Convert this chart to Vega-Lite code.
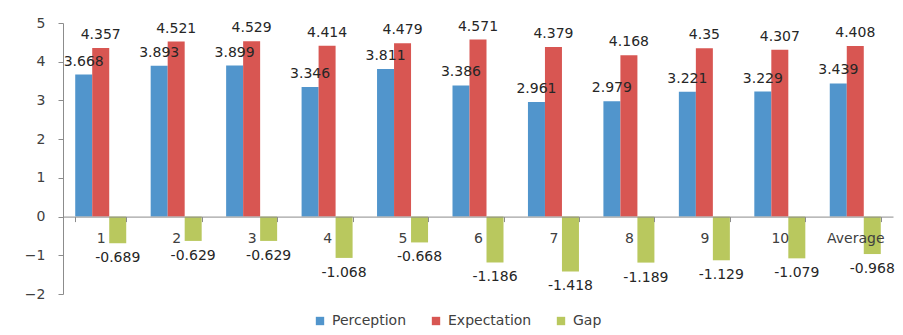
{
  "$schema": "https://vega.github.io/schema/vega-lite/v6.json",
  "width": 830,
  "height": 271,
  "autosize": {"type": "none"},
  "padding": {"left": 63, "top": 23, "right": 10, "bottom": 41},
  "background": "white",
  "config": {
    "view": {"stroke": null},
    "font": "DejaVu Sans",
    "axis": {"labelFont": "DejaVu Sans", "labelFontSize": 14, "labelColor": "#404040", "domainColor": "#8c8c8c", "tickColor": "#8c8c8c", "grid": false}
  },
  "data": {
    "values": [
      {"cat": "1", "series": "Perception", "value": 3.668},
      {"cat": "1", "series": "Expectation", "value": 4.357},
      {"cat": "1", "series": "Gap", "value": -0.689},
      {"cat": "2", "series": "Perception", "value": 3.893},
      {"cat": "2", "series": "Expectation", "value": 4.521},
      {"cat": "2", "series": "Gap", "value": -0.629},
      {"cat": "3", "series": "Perception", "value": 3.899},
      {"cat": "3", "series": "Expectation", "value": 4.529},
      {"cat": "3", "series": "Gap", "value": -0.629},
      {"cat": "4", "series": "Perception", "value": 3.346},
      {"cat": "4", "series": "Expectation", "value": 4.414},
      {"cat": "4", "series": "Gap", "value": -1.068},
      {"cat": "5", "series": "Perception", "value": 3.811},
      {"cat": "5", "series": "Expectation", "value": 4.479},
      {"cat": "5", "series": "Gap", "value": -0.668},
      {"cat": "6", "series": "Perception", "value": 3.386},
      {"cat": "6", "series": "Expectation", "value": 4.571},
      {"cat": "6", "series": "Gap", "value": -1.186},
      {"cat": "7", "series": "Perception", "value": 2.961},
      {"cat": "7", "series": "Expectation", "value": 4.379},
      {"cat": "7", "series": "Gap", "value": -1.418},
      {"cat": "8", "series": "Perception", "value": 2.979},
      {"cat": "8", "series": "Expectation", "value": 4.168},
      {"cat": "8", "series": "Gap", "value": -1.189},
      {"cat": "9", "series": "Perception", "value": 3.221},
      {"cat": "9", "series": "Expectation", "value": 4.35},
      {"cat": "9", "series": "Gap", "value": -1.129},
      {"cat": "10", "series": "Perception", "value": 3.229},
      {"cat": "10", "series": "Expectation", "value": 4.307},
      {"cat": "10", "series": "Gap", "value": -1.079},
      {"cat": "Average", "series": "Perception", "value": 3.439},
      {"cat": "Average", "series": "Expectation", "value": 4.408},
      {"cat": "Average", "series": "Gap", "value": -0.968}
    ]
  },
  "encoding": {
    "x": {
      "field": "cat", "type": "nominal", "sort": null,
      "scale": {"paddingInner": 0.324, "paddingOuter": 0.162},
      "axis": {"title": null, "labelAngle": 0, "offset": -77.4, "tickBand": "extent", "tickSize": 5, "labelPadding": 10, "zindex": 1}
    },
    "xOffset": {"field": "series", "type": "nominal", "sort": ["Perception", "Expectation", "Gap"], "scale": {"paddingInner": 0, "paddingOuter": 0}},
    "y": {
      "field": "value", "type": "quantitative",
      "scale": {"domain": [-2, 5], "nice": false, "zero": false},
      "axis": {"title": null, "values": [-2, -1, 0, 1, 2, 3, 4, 5], "tickSize": 5, "labelPadding": 13, "format": "d"}
    }
  },
  "layer": [
    {
      "mark": {"type": "bar"},
      "encoding": {
        "color": {
          "field": "series", "type": "nominal",
          "sort": ["Perception", "Expectation", "Gap"],
          "scale": {"domain": ["Perception", "Expectation", "Gap"], "range": ["#5195CC", "#D85652", "#B9C85E"]},
          "legend": {
            "title": null, "orient": "none", "direction": "horizontal",
            "legendX": 250, "legendY": 291,
            "symbolType": "square", "symbolSize": 70, "symbolStrokeWidth": 0,
            "labelFont": "DejaVu Sans", "labelFontSize": 14, "labelColor": "#404040",
            "columnPadding": 22, "symbolOffset": 0, "labelOffset": 5
          }
        }
      }
    },
    {
      "transform": [{"filter": "datum.value >= 0"}],
      "mark": {"type": "text", "baseline": "middle", "dy": -13, "fontSize": 14, "color": "#262626"},
      "encoding": {"text": {"field": "value", "type": "nominal"}}
    },
    {
      "transform": [{"filter": "datum.value < 0"}],
      "mark": {"type": "text", "baseline": "middle", "dy": 15, "fontSize": 14, "color": "#262626"},
      "encoding": {"text": {"field": "value", "type": "nominal"}}
    }
  ]
}
